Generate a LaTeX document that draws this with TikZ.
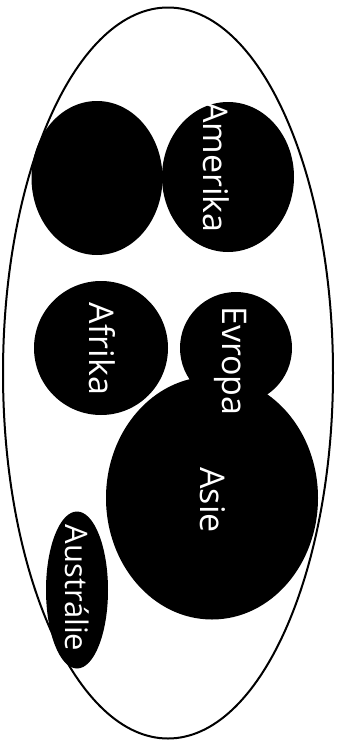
\documentclass[tikz,border=0pt]{standalone}
\usepackage{fontspec}
\setmainfont{Open Sans}
\usetikzlibrary{shapes.geometric}
\tikzset{
  world/.style={draw=black,line width=2pt,ellipse,inner sep=0pt},
  landmass/.style={fill=black,draw=none,ellipse,inner sep=0pt},
  landname/.style={text=white,rotate=-90,anchor=base,inner sep=0pt,font=\fontsize{34}{34}\selectfont},
}
\begin{document}
\begin{tikzpicture}[x=1pt,y=-1pt]
        \useasboundingbox (0,0) rectangle (343,747);
        \node[world,minimum width=330pt,minimum height=731pt] (svet) at (168,373) {};
        % kontinenty
        \node[landmass,minimum width=131pt,minimum height=154pt] (nic) at (97,178) {};
        \node[landmass,minimum width=132pt,minimum height=150pt] (amerika) at (228,177) {};
        \node[landmass,minimum width=134pt,minimum height=134pt] (afrika) at (101,348) {};
        \node[landmass,minimum width=112pt,minimum height=112pt] (evropa) at (236,348) {};
        \node[landmass,minimum width=212pt,minimum height=243pt] (asie) at (212,498) {};
        \node[landmass,minimum width=62pt,minimum height=157pt] (australie) at (77,590) {};
        % popisky
        \node[landname] (amerikaL) at (203,167) {Amerika};
        \node[landname] (afrikaL) at (89,349) {Afrika};
        \node[landname] (evropaL) at (222,361) {Evropa};
        \node[landname] (asieL) at (200,500) {Asie};
        \node[landname,font=\fontsize{31}{31}\selectfont] (australieL) at (65,588) {Austrálie};
    \end{tikzpicture}
\end{document}
